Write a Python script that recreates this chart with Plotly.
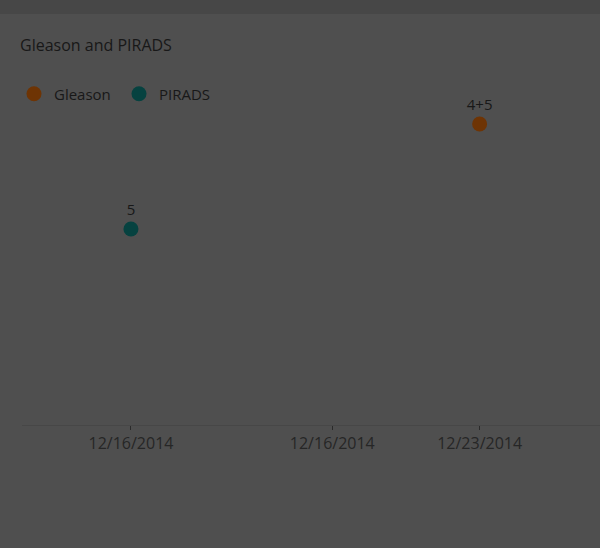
import plotly.graph_objects as go

# Data
series_names = ["Gleason", "PIRADS"]
gleason_dates = ["2014-12-23"]
gleason_values = [9]
gleason_labels = ["4+5"]
pirads_dates = ["2014-12-16"]
pirads_values = [5]
pirads_labels = ["5"]
tick_dates = ["2014-12-16", "2014-12-20 01:00", "2014-12-23"]
tick_labels = ["12/16/2014", "12/16/2014", "12/23/2014"]

BG = "#4f4f4f"
BAND = "#474747"
TXT = "#181818"
TICK_TXT = "#262626"
C_GLEASON = "#6e3404"
C_PIRADS = "#064240"
FONT = "Open Sans, DejaVu Sans, sans-serif"

fig = go.Figure()
fig.add_trace(go.Scatter(
    x=gleason_dates, y=gleason_values, name=series_names[0],
    mode="markers+text", text=gleason_labels, textposition="top center",
    textfont=dict(size=15, color=TXT, family=FONT),
    marker=dict(size=15, color=C_GLEASON),
))
fig.add_trace(go.Scatter(
    x=pirads_dates, y=pirads_values, name=series_names[1],
    mode="markers+text", text=pirads_labels, textposition="top center",
    textfont=dict(size=15, color=TXT, family=FONT),
    marker=dict(size=15, color=C_PIRADS),
))

W, H = 600, 548
L, R, T, B = 22, 0, 100, 123
ph = H - T - B

fig.update_layout(
    width=W, height=H,
    margin=dict(l=L, r=R, t=T, b=B),
    paper_bgcolor=BG, plot_bgcolor=BG,
    font=dict(family=FONT, color=TXT, size=15),
    title=dict(text="Gleason and PIRADS", xref="container", x=20 / W,
               xanchor="left", yref="container", y=1 - 45 / H, yanchor="middle",
               font=dict(size=16, color=TXT, family=FONT)),
    showlegend=True,
    legend=dict(orientation="h", xref="paper", x=(14 - L) / (W - L), xanchor="left",
                yref="paper", y=(H - B - 94) / ph, yanchor="middle",
                font=dict(size=15, color=TXT, family=FONT),
                bgcolor="rgba(0,0,0,0)", entrywidth=60, entrywidthmode="pixels",
                itemwidth=30),
    xaxis=dict(type="date",
               range=["2014-12-13 19:30", "2014-12-25 10:00"],
               tickvals=tick_dates, ticktext=tick_labels,
               showgrid=False, zeroline=False,
               showline=True, linecolor="#474747", linewidth=1,
               ticks="outside", ticklen=4, tickcolor="#2a2a2a",
               tickfont=dict(size=16, color=TICK_TXT, family=FONT)),
    yaxis=dict(range=[-2.467, 9.914], visible=False, showgrid=False, zeroline=False),
    shapes=[dict(type="rect", xref="paper", yref="paper",
                 x0=-L / (W - L) - 0.01, x1=1.01,
                 y0=(H - B - 14) / ph, y1=(H - B) / ph + 0.01,
                 fillcolor=BAND, line=dict(width=0), layer="below")],
)

fig.write_html("out.html", config={"displayModeBar": False},
               post_script="document.body.style.margin='0';")
